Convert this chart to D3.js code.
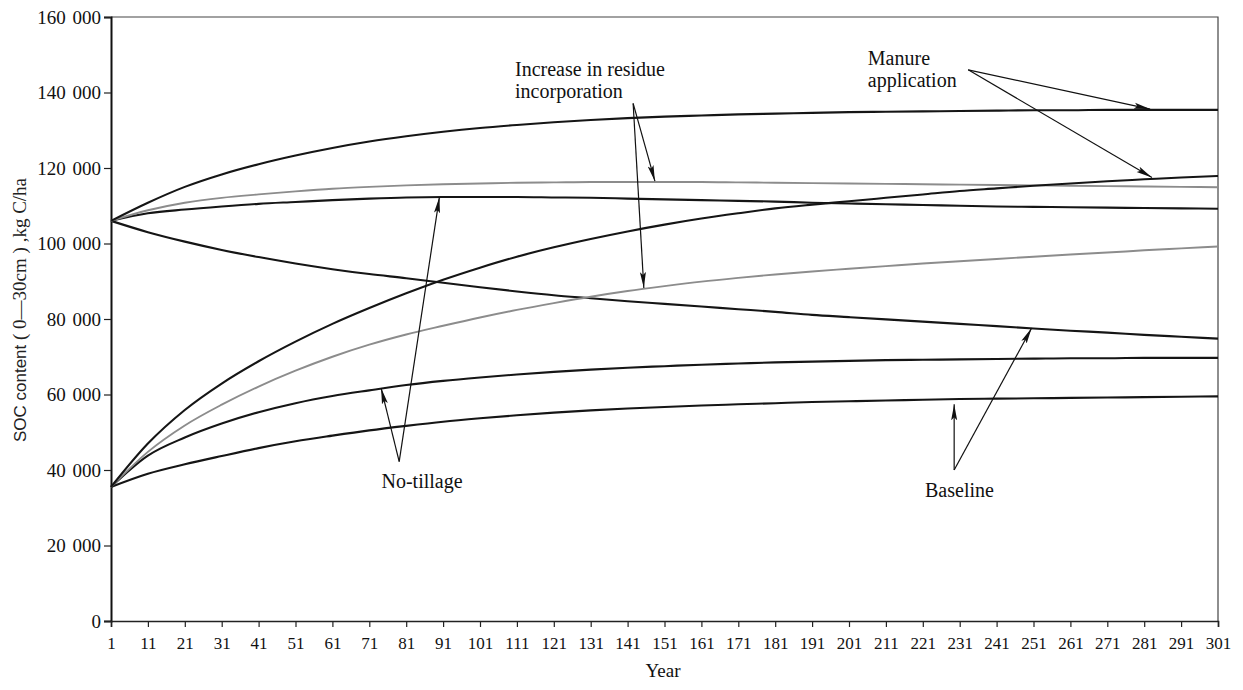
<!DOCTYPE html>
<html>
<head>
<meta charset="utf-8">
<script src="https://cdn.jsdelivr.net/npm/d3@7"></script>
<style>
  body { margin: 0; background: #fff; }
  svg { display: block; }
</style>
</head>
<body>
<svg id="chart" width="1243" height="690"></svg>
<script>
// Simulation years (x-axis categories and tick labels)
const years = [1, 11, 21, 31, 41, 51, 61, 71, 81, 91, 101, 111, 121, 131, 141, 151,
               161, 171, 181, 191, 201, 211, 221, 231, 241, 251, 261, 271, 281, 291, 301];
const yTicks = [0, 20000, 40000, 60000, 80000, 100000, 120000, 140000, 160000];

// SOC content (kg C/ha, 0-30 cm) - soil starting near 106 000
const highManure   = [106000, 110800, 115000, 118300, 121000, 123300, 125300, 127000, 128400, 129600,
                      130600, 131400, 132100, 132700, 133200, 133600, 133900, 134200, 134400, 134600,
                      134800, 134900, 135000, 135100, 135200, 135300, 135300, 135400, 135400, 135400, 135400];
const highResidue  = [106000, 108800, 110800, 112100, 113000, 113800, 114500, 115000, 115400, 115700,
                      115900, 116100, 116200, 116300, 116300, 116300, 116300, 116200, 116100, 116000,
                      115900, 115800, 115700, 115600, 115500, 115400, 115300, 115200, 115100, 115000, 114900];
const highNoTill   = [106000, 108000, 109000, 109800, 110500, 111000, 111500, 111900, 112200, 112300,
                      112300, 112300, 112200, 112100, 111900, 111700, 111500, 111300, 111100, 110800,
                      110600, 110400, 110200, 110000, 109800, 109700, 109600, 109500, 109400, 109300, 109200];
const highBaseline = [106000, 103000, 100500, 98300, 96400, 94700, 93200, 91900, 90800, 89600,
                      88400, 87300, 86300, 85500, 84700, 84000, 83300, 82600, 81900, 81100,
                      80500, 79900, 79300, 78700, 78100, 77500, 76900, 76400, 75800, 75300, 74800];

// SOC content - soil starting near 35 500
const lowManure    = [35500, 47000, 55900, 62900, 68800, 74000, 78700, 82900, 86800, 90400,
                      93600, 96500, 99000, 101200, 103200, 105000, 106600, 108000, 109300, 110300,
                      111200, 112100, 113000, 113900, 114600, 115300, 115900, 116500, 117000, 117500, 117900];
const lowResidue   = [35500, 44800, 51800, 57300, 62100, 66300, 70000, 73200, 75900, 78200,
                      80400, 82400, 84200, 85900, 87400, 88700, 89900, 90900, 91800, 92600,
                      93300, 94000, 94700, 95300, 95900, 96500, 97100, 97600, 98200, 98700, 99200];
const lowNoTill    = [35500, 43800, 48600, 52300, 55300, 57700, 59600, 61100, 62500, 63600,
                      64500, 65300, 66000, 66600, 67100, 67500, 67900, 68200, 68500, 68700,
                      68900, 69100, 69200, 69300, 69400, 69500, 69600, 69600, 69700, 69700, 69700];
const lowBaseline  = [35500, 39000, 41500, 43700, 45800, 47600, 49100, 50500, 51700, 52800,
                      53700, 54500, 55200, 55800, 56300, 56700, 57100, 57400, 57700, 58000,
                      58200, 58400, 58600, 58800, 58900, 59000, 59100, 59200, 59300, 59400, 59500];

const series = [
  { key: "highBaseline", scenario: "Baseline",   values: highBaseline },
  { key: "highNoTill",   scenario: "No-tillage", values: highNoTill },
  { key: "highResidue",  scenario: "Residue",    values: highResidue },
  { key: "highManure",   scenario: "Manure",     values: highManure },
  { key: "lowBaseline",  scenario: "Baseline",   values: lowBaseline },
  { key: "lowNoTill",    scenario: "No-tillage", values: lowNoTill },
  { key: "lowResidue",   scenario: "Residue",    values: lowResidue },
  { key: "lowManure",    scenario: "Manure",     values: lowManure }
];

// Callouts: label lines, label anchor, arrow origin and arrow tips, all in [year, SOC]
const callouts = [
  { lines: ["Increase in residue", "incorporation"], at: [110.5, 144300],
    from: [142.5, 137100], tips: [[148.4, 116500], [145.4, 88200]] },
  { lines: ["Manure", "application"], at: [206.1, 147300],
    from: [233.3, 146000], tips: [[282.6, 135600], [283.1, 117500]] },
  { lines: ["No-tillage"], at: [74.3, 35200],
    from: [79.1, 42200], tips: [[74.2, 61700], [90.0, 112300]] },
  { lines: ["Baseline"], at: [221.6, 32800],
    from: [229.5, 40000], tips: [[229.5, 57400], [250.5, 77600]] }
];

const svg = d3.select("#chart");
const W = 1243, H = 690;
svg.append("rect").attr("width", W).attr("height", H).attr("fill", "#fff");

const x = d3.scaleLinear().domain([1, 301]).range([111, 1218]);
const y = d3.scaleLinear().domain([0, 160000]).range([621, 17]);

const serif = "'Liberation Serif', 'Times New Roman', serif";
const sans = "'Liberation Sans', Arial, sans-serif";

// frame (top and right edges)
svg.append("path")
  .attr("d", `M${x(1)},${y(160000)}H${x(301)}V${y(0)}`)
  .attr("fill", "none").attr("stroke", "#444").attr("stroke-width", 1.2);

// y axis
const yAxis = svg.append("g")
  .attr("transform", `translate(${x(1)},0)`)
  .call(d3.axisLeft(y).tickValues(yTicks).tickSize(7).tickPadding(3)
    .tickFormat(v => v === 0 ? "0" : d3.format(",")(v).replace(/,/g, " ")));
yAxis.select(".domain").attr("stroke", "#111").attr("stroke-width", 2);
yAxis.selectAll(".tick line").attr("stroke", "#222").attr("stroke-width", 1.2);
yAxis.selectAll(".tick text")
  .attr("font-family", serif).attr("font-size", 19).attr("fill", "#111")
  .style("word-spacing", "2px");

// x axis
const xAxis = svg.append("g")
  .attr("transform", `translate(0,${y(0)})`)
  .call(d3.axisBottom(x).tickValues(years).tickSize(6).tickPadding(10)
    .tickFormat(d3.format("d")));
xAxis.select(".domain").attr("stroke", "#222").attr("stroke-width", 1.6);
xAxis.selectAll(".tick line").attr("stroke", "#222").attr("stroke-width", 1.2);
xAxis.selectAll(".tick text")
  .attr("font-family", serif).attr("font-size", 17).attr("fill", "#111");

// axis titles
svg.append("text")
  .attr("x", 663).attr("y", 677)
  .attr("text-anchor", "middle")
  .attr("font-family", serif).attr("font-size", 19).attr("fill", "#111")
  .text("Year");

const yTitle = svg.append("text")
  .attr("transform", "translate(26,310) rotate(-90)")
  .attr("text-anchor", "middle").attr("fill", "#222");
yTitle.append("tspan").attr("font-family", sans).attr("font-size", 17).text("SOC content");
yTitle.append("tspan").attr("font-family", serif).attr("font-size", 19)
  .text(" ( 0\u201430cm ) ,kg C/ha");

// SOC curves
const line = d3.line()
  .x((d, i) => x(years[i]))
  .y(d => y(d))
  .curve(d3.curveMonotoneX);

svg.append("g").selectAll("path")
  .data(series)
  .join("path")
  .attr("class", d => "soc " + d.key)
  .attr("d", d => line(d.values))
  .attr("fill", "none")
  .attr("stroke", d => d.scenario === "Residue" ? "#8c8c8c" : "#151515")
  .attr("stroke-width", d => d.scenario === "Residue" ? 1.9 : 2.1)
  .attr("stroke-linejoin", "round");

// arrow head marker
svg.append("defs").append("marker")
  .attr("id", "head")
  .attr("markerUnits", "userSpaceOnUse")
  .attr("viewBox", "0 0 16 8")
  .attr("refX", 16).attr("refY", 4)
  .attr("markerWidth", 16).attr("markerHeight", 8)
  .attr("orient", "auto")
  .append("path")
  .attr("d", "M0,1 L16,4 L0,7 L3,4 Z")
  .attr("fill", "#111");

// callouts
const notes = svg.append("g");
callouts.forEach(c => {
  const [fx, fy] = [x(c.from[0]), y(c.from[1])];
  c.tips.forEach(t => {
    notes.append("line")
      .attr("x1", fx).attr("y1", fy)
      .attr("x2", x(t[0])).attr("y2", y(t[1]))
      .attr("stroke", "#111").attr("stroke-width", 1.2)
      .attr("marker-end", "url(#head)");
  });
  const txt = notes.append("text")
    .attr("x", x(c.at[0])).attr("y", y(c.at[1]))
    .attr("font-family", serif).attr("font-size", 20).attr("fill", "#111");
  c.lines.forEach((s, i) => {
    txt.append("tspan")
      .attr("x", x(c.at[0]))
      .attr("dy", i === 0 ? 0 : 22)
      .text(s);
  });
});
</script>
</body>
</html>
